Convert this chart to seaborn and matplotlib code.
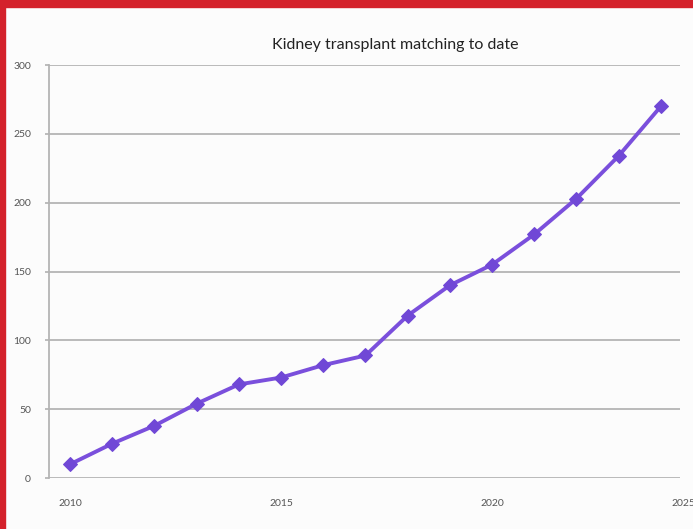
import numpy as np
import pandas as pd
import matplotlib
matplotlib.use("Agg")
import matplotlib.pyplot as plt
from matplotlib.patches import Rectangle
import seaborn as sns

# data
years = [2010, 2011, 2012, 2013, 2014, 2015, 2016, 2017,
         2018, 2019, 2020, 2021, 2022, 2023, 2024]
matches = [10, 25, 38, 54, 68, 73, 82, 89,
           118, 140, 155, 177, 203, 234, 270]
x_ticks = [2010, 2015, 2020, 2025]
y_ticks = [0, 50, 100, 150, 200, 250, 300]
title = "Kidney transplant matching to date"

sns.set_theme(style="white")
plt.rcParams["font.family"] = ["Lato", "DejaVu Sans"]

df = pd.DataFrame({"year": years, "matches": matches})

fig = plt.figure(figsize=(6.93, 5.29), dpi=100, facecolor="#fcfcfc")
ax = fig.add_axes([0.0707, 0.0964, 0.9103, 0.7806])
ax.set_facecolor("#fcfcfc")

# red frame on top and left edge
fig.patches.append(Rectangle((0, 1 - 7 / 529), 1, 7 / 529, transform=fig.transFigure,
                             color="#d4212b", zorder=10))
fig.patches.append(Rectangle((0, 0), 5 / 693, 1, transform=fig.transFigure,
                             color="#d4212b", zorder=10))

for y in y_ticks:
    ax.axhline(y, color="#b4b4b4", lw=1.3, zorder=0)

sns.lineplot(data=df, x="year", y="matches", ax=ax, color="#7a4fdc", lw=2.8,
             marker="D", markersize=7, markerfacecolor="#7048d6",
             markeredgecolor="#7048d6", zorder=3)

ax.set_xlim(2009.5, 2024.45)
ax.set_ylim(0, 300)
ax.set_yticks(y_ticks)
ax.set_yticklabels([str(v) for v in y_ticks], fontsize=7.5, color="#555555")
ax.set_xticks(x_ticks[:-1])
ax.set_xticklabels([str(v) for v in x_ticks[:-1]], fontsize=7.5, color="#555555")
# last year label is cut by the right edge of the image, as in the source
ax.annotate(str(x_ticks[-1]), xy=(1.006, 0), xycoords="axes fraction",
            xytext=(0, -15), textcoords="offset points", ha="center", va="top",
            fontsize=7.5, color="#555555", annotation_clip=False)
ax.tick_params(axis="x", length=0, pad=15)
ax.tick_params(axis="y", length=3, color="#b4b4b4", pad=10, left=True)
ax.set_xlabel("")
ax.set_ylabel("")

for side in ["top", "right", "bottom"]:
    ax.spines[side].set_visible(False)
ax.spines["left"].set_color("#b4b4b4")
ax.spines["left"].set_linewidth(1.3)

fig.text(0.570, 0.915, title, ha="center", va="center", fontsize=11.5, color="#222222")

fig.savefig("out.png", dpi=100, facecolor=fig.get_facecolor())
